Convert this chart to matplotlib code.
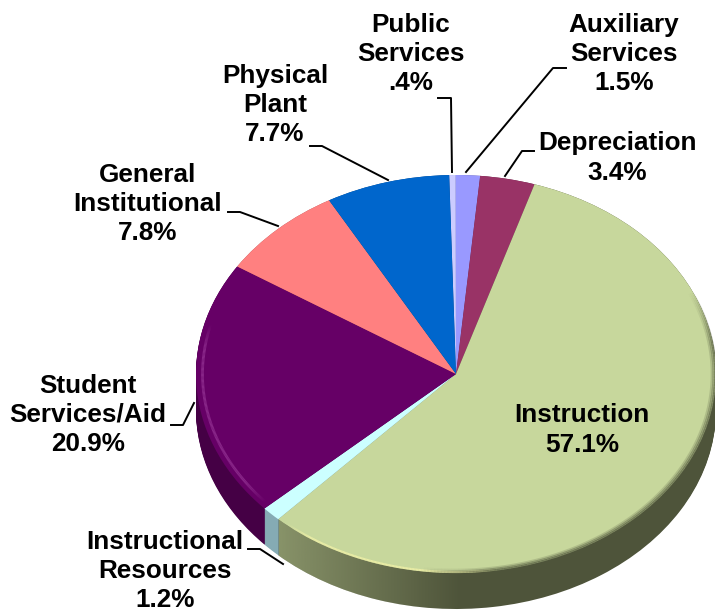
import numpy as np
import matplotlib
matplotlib.use('Agg')
import matplotlib.pyplot as plt
from matplotlib.collections import LineCollection
from matplotlib.colors import to_rgb
from matplotlib.patches import PathPatch
from matplotlib.path import Path

plt.rcParams['font.family'] = ['Liberation Sans', 'DejaVu Sans']

# Slices, clockwise from the top of the pie
categories = ['Public Services', 'Auxiliary Services', 'Depreciation', 'Instruction',
              'Instructional Resources', 'Student Services/Aid',
              'General Institutional', 'Physical Plant']
shares = [0.4, 1.5, 3.4, 57.1, 1.2, 20.9, 7.8, 7.7]
share_labels = ['.4%', '1.5%', '3.4%', '57.1%', '1.2%', '20.9%', '7.8%', '7.7%']
face_colors = ['#CCCCFF', '#9999FF', '#993366', '#C7D79C',
               '#CCFFFF', '#660066', '#FF8080', '#0066CC']
side_colors = ['#8080A0', '#6060A0', '#602040', '#4E543A',
               '#85ABB4', '#450045', '#A05050', '#004080']

W, H = 715, 612
CX, CY, RX, RY, DEPTH = 456, 374, 260, 199, 36
START = 91.5

fig = plt.figure(figsize=(W / 100, H / 100), dpi=100)
ax = fig.add_axes([0, 0, 1, 1])
xlim = (-CX / RX, (W - CX) / RX)
ylim = ((CY - H) / RY, CY / RY)
dy = DEPTH / RY

# Side wall: stacked copies of the pie
for off in np.linspace(dy, 0, DEPTH + 1):
    ax.pie(shares, center=(0, -off), radius=1, colors=side_colors, startangle=START,
           counterclock=False, wedgeprops={'linewidth': 0})

# Boundaries of the slices, in degrees (slice i runs from edges[i] to edges[i + 1])
edges = START - np.cumsum([0] + shares) * 3.6
instr_end = edges[4]


def side_path(a0, a1):
    t = np.radians(np.linspace(a0, a1, 120))
    top = np.c_[np.cos(t), np.sin(t)]
    low = np.c_[np.cos(t[::-1]), np.sin(t[::-1]) - dy]
    return Path(np.r_[top, low, top[:1]], closed=True)


# Light falling on the left of the Instruction wall
grad = np.zeros((2, 200, 4))
grad[..., :3] = (199 / 255, 215 / 255, 156 / 255)
grad[..., 3] = np.clip(np.linspace(0.48, -0.02, 200), 0, 1)
img = ax.imshow(grad, extent=(-0.68, 0.05, -1.3, -0.5), aspect='auto', zorder=3)
clip = PathPatch(side_path(instr_end, -88), transform=ax.transData, fc='none', ec='none')
ax.add_patch(clip)
img.set_clip_path(clip)

# Top face
ax.pie(shares, center=(0, 0), radius=1, colors=face_colors, startangle=START,
       counterclock=False, wedgeprops={'linewidth': 0, 'zorder': 4})


# Bevel on the rim of the face, fading out towards both ends
def rim(a0, a1, r, color, alpha, lw):
    t = np.radians(np.linspace(a0, a1, 160))
    pts = np.c_[r * np.cos(t), r * np.sin(t)]
    segs = np.stack([pts[:-1], pts[1:]], axis=1)
    fade = np.clip(np.sin(np.linspace(0, np.pi, len(segs))) * 2.5, 0, 1)
    cols = [(*to_rgb(color), alpha * f) for f in fade]
    ax.add_collection(LineCollection(segs, colors=cols, linewidths=lw, zorder=5))


rim(instr_end + 2, -80, 0.995, '#F2F2A8', 0.8, 1.6)
for r, al in [(0.998, 0.6), (0.991, 0.4), (0.984, 0.2)]:
    rim(-98, 25, r, '#4E543A', al, 1.7)
rim(edges[5] - 1, -195, 0.975, '#8C2A8C', 0.9, 2.0)

ax.set_xlim(xlim)
ax.set_ylim(ylim)
ax.set_aspect('auto')
ax.axis('off')

# Labels and leader lines, in figure pixels
lab = fig.add_axes([0, 0, 1, 1])
lab.set_xlim(0, W)
lab.set_ylim(H, 0)
lab.patch.set_alpha(0)
lab.axis('off')

label_text = ['Public\nServices', 'Auxiliary\nServices', 'Depreciation', 'Instruction',
              'Instructional\nResources', 'Student\nServices/Aid',
              'General\nInstitutional', 'Physical\nPlant']
label_pos = [(411, 54), (624, 54), (617, 158), (582, 430),
             (165, 571), (88, 415), (148, 204), (275, 105)]
for name, pct, (x, y) in zip(label_text, share_labels, label_pos):
    lab.text(x, y, name + '\n' + pct, ha='center', va='center', fontsize=18.8,
             fontweight='bold', color='black', linespacing=1.27, zorder=6)

leaders = [[(438, 98), (451, 98), (452, 172)],
           [(566, 68), (553, 68), (466, 172)],
           [(534, 151), (522, 151), (505, 176)],
           [(310, 146), (322, 146), (388, 180)],
           [(228, 212), (240, 212), (278, 226)],
           [(171, 425), (183, 425), (194, 403)],
           [(248, 549), (260, 549), (283, 564)]]
for pts in leaders:
    xs, ys = zip(*pts)
    lab.plot(xs, ys, color='black', lw=1.4, zorder=6)

fig.savefig('out.png', dpi=100, facecolor='white')
